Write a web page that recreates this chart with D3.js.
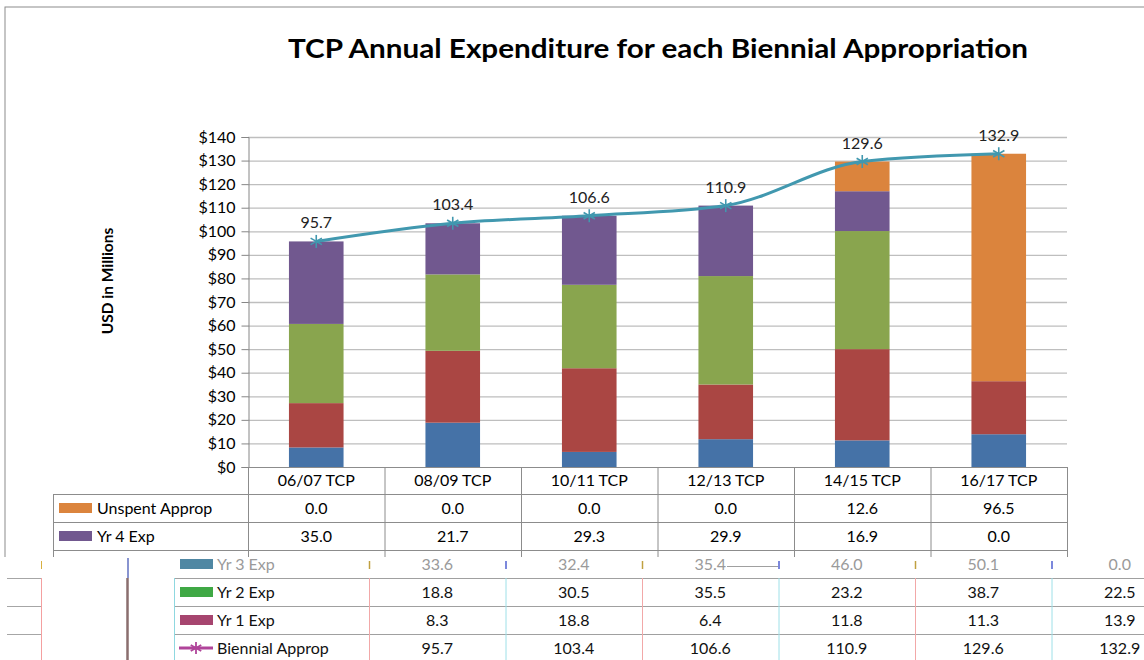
<!DOCTYPE html>
<html><head><meta charset="utf-8">
<script src="https://cdn.jsdelivr.net/npm/d3@7"></script>
<style>
html,body{margin:0;padding:0;background:#fff;}
svg{display:block;font-family:Lato,"Open Sans",sans-serif;}
</style></head>
<body><svg id="c" width="1144" height="660"></svg>
<script>
// ---- data ----
const categories = ["06/07 TCP","08/09 TCP","10/11 TCP","12/13 TCP","14/15 TCP","16/17 TCP"];
const yr1Exp = [8.3, 18.8, 6.4, 11.8, 11.3, 13.9];
const yr2Exp = [18.8, 30.5, 35.5, 23.2, 38.7, 22.5];
const yr3Exp = [33.6, 32.4, 35.4, 46.0, 50.1, 0.0];
const yr4Exp = [35.0, 21.7, 29.3, 29.9, 16.9, 0.0];
const unspentApprop = [0.0, 0.0, 0.0, 0.0, 12.6, 96.5];
const biennialApprop = [95.7, 103.4, 106.6, 110.9, 129.6, 132.9];
const yTicks = [0,10,20,30,40,50,60,70,80,90,100,110,120,130,140];
const seriesNames = ["Yr 1 Exp","Yr 2 Exp","Yr 3 Exp","Yr 4 Exp","Unspent Approp"];

const colors = {"Yr 1 Exp":"#4572A7","Yr 2 Exp":"#AA4643","Yr 3 Exp":"#89A54E","Yr 4 Exp":"#71588F","Unspent Approp":"#DB843D"};
const lineColor = "#4198AF";

const svg = d3.select("#c");
const W=1144,H=660;
const plotL=248, plotR=1067, plotT=137, plotB=467;

// border
svg.append("rect").attr("x",5).attr("y",7).attr("width",W+10).attr("height",H+10)
  .attr("fill","none").attr("stroke","#8c8c8c").attr("stroke-width",1);

// title
svg.append("text").attr("x",658).attr("y",58).attr("text-anchor","middle")
  .attr("font-size",26).attr("font-weight","bold").attr("fill","#000")
  .attr("textLength",740).attr("lengthAdjust","spacingAndGlyphs")
  .text("TCP Annual Expenditure for each Biennial Appropriation");

const x = d3.scaleBand().domain(categories).range([plotL,plotR]).padding(0);
const y = d3.scaleLinear().domain([0,140]).range([plotB,plotT]);
const barW = x.bandwidth()*0.4;
const cx = c => x(c)+x.bandwidth()/2;

// gridlines
svg.append("g").selectAll("line").data(yTicks.filter(t=>t>0)).join("line")
  .attr("x1",plotL).attr("x2",plotR).attr("y1",d=>y(d)+0.5).attr("y2",d=>y(d)+0.5)
  .attr("stroke","#bebebe").attr("stroke-width",1.3);

// y axis
const yAxis = d3.axisLeft(y).tickValues(yTicks).tickSize(7).tickPadding(6).tickFormat(d=>"$"+d);
const ga = svg.append("g").attr("transform",`translate(${plotL+0.5},0)`).call(yAxis);
ga.select(".domain").attr("stroke","#868686");
ga.selectAll(".tick line").attr("stroke","#868686");
ga.selectAll(".tick text").attr("font-size",16).attr("fill","#000").attr("font-family","Lato");

// y title
svg.append("text").attr("transform","translate(113,281) rotate(-90)").attr("text-anchor","middle")
  .attr("font-size",15.5).attr("font-weight","bold").text("USD in Millions");

// stacked bars
const rows = categories.map((c,i)=>({cat:c,"Yr 1 Exp":yr1Exp[i],"Yr 2 Exp":yr2Exp[i],"Yr 3 Exp":yr3Exp[i],"Yr 4 Exp":yr4Exp[i],"Unspent Approp":unspentApprop[i]}));
const stack = d3.stack().keys(seriesNames)(rows);
svg.append("g").selectAll("g").data(stack).join("g").attr("fill",d=>colors[d.key])
  .selectAll("rect").data(d=>d).join("rect")
  .attr("x",d=>cx(d.data.cat)-barW/2).attr("width",barW)
  .attr("y",d=>y(d[1])).attr("height",d=>Math.max(0,y(d[0])-y(d[1])));

// line
const pts = categories.map((c,i)=>[cx(c),y(biennialApprop[i])]);
svg.append("path").attr("d",d3.line().curve(d3.curveMonotoneX)(pts))
  .attr("fill","none").attr("stroke",lineColor).attr("stroke-width",3);
function star(g,px,py,r,col,sw){
  const a=[[0,-r,0,r],[-r*0.87,-r*0.5,r*0.87,r*0.5],[-r*0.87,r*0.5,r*0.87,-r*0.5]];
  a.forEach(s=>g.append("line").attr("x1",px+s[0]).attr("y1",py+s[1]).attr("x2",px+s[2]).attr("y2",py+s[3])
    .attr("stroke",col).attr("stroke-width",sw));
}
const mk = svg.append("g");
pts.forEach(p=>star(mk,p[0],p[1],6.5,lineColor,1.6));
svg.append("g").selectAll("text").data(categories).join("text")
  .attr("x",c=>cx(c)).attr("y",(c,i)=>y(biennialApprop[i])-13).attr("text-anchor","middle")
  .attr("font-size",16).attr("fill","#222").text((c,i)=>biennialApprop[i].toFixed(1));

// ---- data table ----
const tblL=53, rowH=28, hdrB=494;
const tableRows = [
  {name:"Unspent Approp", vals:unspentApprop},
  {name:"Yr 4 Exp", vals:yr4Exp}
];
const tg = svg.append("g");
const lc="#8c8c8c";
const bounds = categories.map(c=>x(c)).concat([plotR]);
bounds.forEach(b=>tg.append("line").attr("x1",b+0.5).attr("x2",b+0.5).attr("y1",plotB).attr("y2",560).attr("stroke",lc));
tg.append("line").attr("x1",plotL).attr("x2",plotR).attr("y1",plotB+0.5).attr("y2",plotB+0.5).attr("stroke",lc);
tg.append("line").attr("x1",tblL+0.5).attr("x2",tblL+0.5).attr("y1",hdrB).attr("y2",560).attr("stroke",lc);
tg.selectAll("text.hdr").data(categories).join("text").attr("class","hdr")
  .attr("x",c=>cx(c)).attr("y",486).attr("text-anchor","middle").attr("font-size",16).text(c=>c);
tableRows.forEach((r,ri)=>{
  const top=hdrB+ri*rowH;
  tg.append("line").attr("x1",tblL).attr("x2",plotR).attr("y1",top+0.5).attr("y2",top+0.5).attr("stroke",lc);
  tg.append("rect").attr("x",59).attr("y",top+9).attr("width",33).attr("height",10).attr("fill",colors[r.name]);
  tg.append("text").attr("x",97).attr("y",top+20).attr("font-size",16).text(r.name);
  categories.forEach((c,i)=>tg.append("text").attr("x",cx(c)).attr("y",top+20).attr("text-anchor","middle")
    .attr("font-size",16).text(r.vals[i].toFixed(1)));
});
tg.append("line").attr("x1",tblL).attr("x2",plotR).attr("y1",hdrB+2*rowH+0.5).attr("y2",hdrB+2*rowH+0.5).attr("stroke",lc);

// ---- glitched lower section (as in reference) ----
const cutY=557, shift=121;
svg.append("rect").attr("x",0).attr("y",cutY).attr("width",W).attr("height",H-cutY).attr("fill","#fff");
const gl = svg.append("g");
// left fragments
[578,606,634].forEach(yy=>gl.append("line").attr("x1",7).attr("x2",41).attr("y1",yy+0.5).attr("y2",yy+0.5).attr("stroke","#a6a6a6"));
gl.append("line").attr("x1",41.5).attr("x2",41.5).attr("y1",578).attr("y2",H).attr("stroke","#f4a0a0");
gl.append("line").attr("x1",41.5).attr("x2",41.5).attr("y1",561).attr("y2",569).attr("stroke","#d8b040");
gl.append("line").attr("x1",127.5).attr("x2",127.5).attr("y1",578).attr("y2",H).attr("stroke","#8a6e6e").attr("stroke-width",2.5);
gl.append("line").attr("x1",128).attr("x2",128).attr("y1",558).attr("y2",578).attr("stroke","#6070c0").attr("stroke-width",1.5);

const sL=tblL+shift;
const sBounds = bounds.map(b=>b+shift);
const lowRows = [
  {name:"Yr 3 Exp", vals:yr3Exp, col:"#4F87A3", faint:true},
  {name:"Yr 2 Exp", vals:yr2Exp, col:"#3FA845"},
  {name:"Yr 1 Exp", vals:yr1Exp, col:"#A6456F"},
  {name:"Biennial Approp", vals:biennialApprop, col:"#B0449A", line:true}
];
[578,606,634].forEach(yy=>gl.append("line").attr("x1",sL).attr("x2",W).attr("y1",yy+0.5).attr("y2",yy+0.5).attr("stroke","#a0a0a0"));
gl.append("line").attr("x1",sL+0.5).attr("x2",sL+0.5).attr("y1",578).attr("y2",H).attr("stroke","#8fd8e0");
sBounds.slice(0,6).forEach((b,i)=>{
  gl.append("line").attr("x1",b+0.5).attr("x2",b+0.5).attr("y1",578).attr("y2",H).attr("stroke",i%2?"#9ee0e8":"#f2a8a8");
  gl.append("line").attr("x1",b+0.5).attr("x2",b+0.5).attr("y1",561).attr("y2",569).attr("stroke",i%2?"#5060d0":"#c0a040").attr("stroke-width",1.5);
});
gl.append("line").attr("x1",727).attr("x2",778).attr("y1",566.5).attr("y2",566.5).attr("stroke","#a0a0a0");
lowRows.forEach((r,ri)=>{
  const top=550+ri*rowH;
  if(r.line){
    gl.append("line").attr("x1",179).attr("x2",213).attr("y1",top+14).attr("y2",top+14).attr("stroke",r.col).attr("stroke-width",3);
    star(gl,196,top+14,6,r.col,1.8);
  } else {
    gl.append("rect").attr("x",180).attr("y",top+9).attr("width",33).attr("height",10).attr("fill",r.col);
  }
  const fc = r.faint ? "#9a9a9a" : "#111";
  gl.append("text").attr("x",217).attr("y",top+20).attr("font-size",16).attr("fill",fc).text(r.name);
  categories.forEach((c,i)=>gl.append("text").attr("x",cx(c)+shift).attr("y",top+20).attr("text-anchor","middle")
    .attr("font-size",16).attr("fill",fc).text(r.vals[i].toFixed(1)));
});
</script></body></html>
